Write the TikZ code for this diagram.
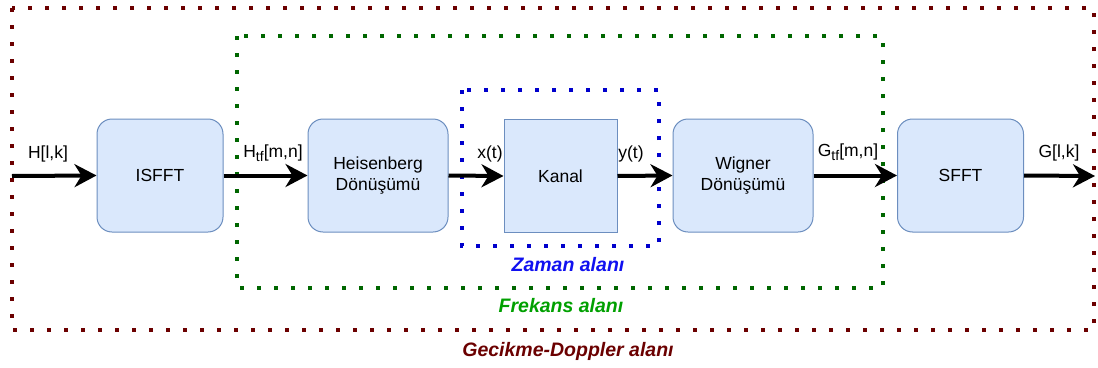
\documentclass[tikz,border=0pt]{standalone}
\usepackage{fontspec}
\setmainfont{Liberation Sans}
\usetikzlibrary{arrows.meta}
\definecolor{boxfill}{HTML}{DAE8FC}
\definecolor{boxline}{HTML}{6C8EBF}
\definecolor{regred}{HTML}{6B0000}
\definecolor{reggreen}{HTML}{006600}
\definecolor{regblue}{HTML}{0000CC}
\definecolor{txtgreen}{HTML}{00A000}
\definecolor{txtblue}{HTML}{1010F0}
\tikzset{
  blockbox/.style={draw=boxline, fill=boxfill, line width=1pt, rounded corners=15pt,
    minimum width=126pt, minimum height=113pt, align=center, font=\fontsize{17.5}{21}\selectfont, inner sep=0pt},
  squarebox/.style={blockbox, rounded corners=0pt},
  flow/.style={line width=4pt, -{Stealth[length=22pt,width=23pt,inset=7pt]}},
  region/.style={line width=4pt, line cap=butt, dash pattern=on 4pt off 13pt},
  sig/.style={font=\fontsize{17.5}{20}\selectfont, inner sep=0pt},
  regtext/.style={font=\fontsize{19.5}{22}\selectfont\bfseries\itshape, inner sep=0pt}
}
\newcommand{\mysub}[1]{\raisebox{-0.25em}{\fontsize{14}{14}\selectfont #1}}
\begin{document}
\begin{tikzpicture}[x=1pt,y=-1pt]
\useasboundingbox (0,0) rectangle (1098,367);
% regions
\draw[region, regred] (12,8) rectangle (1094,330);
\draw[region, reggreen] (237,36) rectangle (883,288);
\draw[region, regblue] (462,90) rectangle (659,246);
% blocks
\node[blockbox] (isfft) at (160,175.5) {ISFFT};
\node[blockbox, minimum width=140pt] (heis) at (378,175.5) {Heisenberg\\Dönüşümü};
\node[squarebox, minimum width=113pt] (kanal) at (560.5,176) {Kanal};
\node[blockbox, minimum width=140pt] (wig) at (743,175.5) {Wigner\\Dönüşümü};
\node[blockbox] (sfft) at (960.5,175.5) {SFFT};
% in/out
\coordinate (in) at (12,176);
\coordinate (out) at (1095,176);
% arrows
\draw[flow] (in) -- (isfft.west);
\draw[flow] (isfft.east) -- (heis.west);
\draw[flow] (heis.east) -- (kanal.west);
\draw[flow] (kanal.east) -- (wig.west);
\draw[flow] (wig.east) -- (sfft.west);
\draw[flow] (sfft.east) -- (out);
% signal labels
\node[sig] (l1) at (48,154) {H[l,k]};
\node[sig] (l2) at (273,153) {H\mysub{tf}[m,n]};
\node[sig] (l3) at (490,154) {x(t)};
\node[sig] (l4) at (631,154) {y(t)};
\node[sig] (l5) at (848,152) {G\mysub{tf}[m,n]};
\node[sig] (l6) at (1059,153) {G[l,k]};
% region labels
\node[regtext, text=txtblue] (zt) at (568,265) {Zaman alanı};
\node[regtext, text=txtgreen] (ft) at (561,306) {Frekans alanı};
\node[regtext, text=regred] (gt) at (568,351) {Gecikme-Doppler alanı};
\end{tikzpicture}
\end{document}
